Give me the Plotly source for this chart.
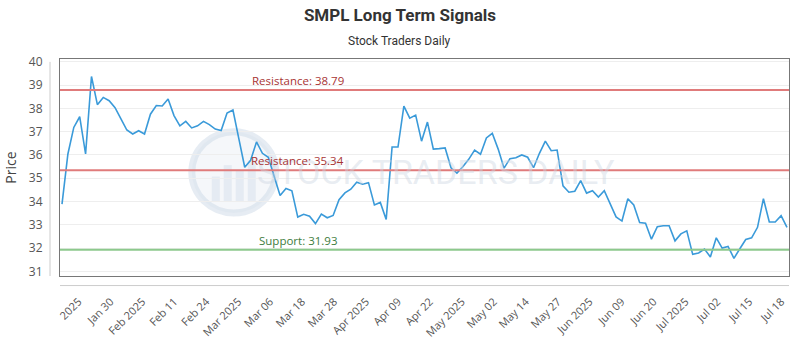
import plotly.graph_objects as go
import numpy as np

# ---- data ----
prices = [
    33.89, 36.04, 37.18, 37.64, 36.04, 39.37, 38.16, 38.47, 38.33, 38.03,
    37.55, 37.07, 36.90, 37.04, 36.90, 37.75, 38.12, 38.10, 38.40, 37.69,
    37.25, 37.44, 37.16, 37.25, 37.44, 37.30, 37.11, 37.05, 37.80, 37.93,
    36.70, 35.47, 35.77, 36.56, 36.07, 35.90, 35.07, 34.26, 34.56, 34.46,
    33.33, 33.45, 33.37, 33.05, 33.46, 33.30, 33.40, 34.08, 34.37, 34.53,
    34.83, 34.74, 34.81, 33.85, 33.96, 33.23, 36.34, 36.34, 38.10, 37.58,
    37.71, 36.59, 37.41, 36.25, 36.27, 36.30, 35.45, 35.22, 35.49, 35.81,
    36.21, 36.03, 36.73, 36.93, 36.25, 35.43, 35.84, 35.88, 36.00, 35.90,
    35.45, 36.07, 36.59, 36.18, 36.21, 34.67, 34.40, 34.44, 34.90, 34.36,
    34.46, 34.19, 34.46, 33.92, 33.34, 33.16, 34.12, 33.85, 33.10, 33.07,
    32.38, 32.92, 32.96, 32.96, 32.31, 32.61, 32.74, 31.73, 31.79, 31.96,
    31.62, 32.44, 32.00, 32.07, 31.56, 31.97, 32.37, 32.44, 32.89, 34.12,
    33.12, 33.12, 33.39, 32.89,
]
tick_labels = ["2025", "Jan 30", "Feb 2025", "Feb 11", "Feb 24", "Mar 2025",
               "Mar 06", "Mar 18", "Mar 28", "Apr 2025", "Apr 09", "Apr 22",
               "May 2025", "May 02", "May 14", "May 27", "Jun 2025", "Jun 09",
               "Jun 20", "Jul 2025", "Jul 02", "Jul 15", "Jul 18"]
levels = [38.79, 35.34, 31.93]
level_names = ["Resistance", "Resistance", "Support"]
y_ticks = [31, 32, 33, 34, 35, 36, 37, 38, 39, 40]

x = list(range(len(prices)))
n = len(prices)
tickvals = list(np.linspace(2.8, 2.8 + 5.42 * (len(tick_labels) - 1), len(tick_labels)))

fig = go.Figure()
fig.add_trace(go.Scatter(x=x, y=prices, mode="lines",
                         line=dict(color="#3a9ad9", width=1.6),
                         hoverinfo="skip", showlegend=False))

# Watermark
fig.add_shape(type="circle", xref="paper", yref="paper",
              x0=(192 - 60) / 730, x1=(276 - 60) / 730,
              y0=(286 - 220) / 227, y1=(286 - 135) / 227,
              line=dict(color="rgba(200,212,228,0.45)", width=7),
              fillcolor="rgba(225,232,242,0.35)", layer="below")
for bx0, bx1, btop in [(212, 220, 182), (224, 232, 170), (236, 244, 176), (248, 256, 165)]:
    fig.add_shape(type="rect", xref="paper", yref="paper",
                  x0=(bx0 - 60) / 730, x1=(bx1 - 60) / 730,
                  y0=(286 - 208) / 227, y1=(286 - btop) / 227,
                  line=dict(width=0), fillcolor="rgba(200,212,228,0.35)", layer="below")
fig.add_annotation(text="STOCK TRADERS DAILY", xref="paper", yref="paper",
                   x=(437 - 60) / 730, y=(286 - 177) / 227, showarrow=False,
                   font=dict(family="Roboto", size=34, color="rgba(205,214,226,0.45)"),
                   xanchor="center", yanchor="middle")

line_colors = ["#e07b7b", "#e07b7b", "#8cc98c"]
text_colors = ["#a83434", "#a83434", "#3d7d3d"]
for lv, nm, lc, tc in zip(levels, level_names, line_colors, text_colors):
    fig.add_shape(type="line", xref="paper", yref="y", x0=0, x1=1, y0=lv, y1=lv,
                  line=dict(color=lc, width=2))
    fig.add_annotation(text=f"{nm}: {lv:.2f}", xref="paper", yref="y",
                       x=0.326, y=lv, yanchor="bottom", xanchor="center",
                       showarrow=False, yshift=0,
                       font=dict(family="Open Sans", size=11.5, color=tc))

# separate axis lines
fig.add_shape(type="line", xref="paper", yref="paper",
              x0=-10 / 730, x1=-10 / 730, y0=0, y1=(286 - 62) / 227,
              line=dict(color="#cccccc", width=1))
fig.add_shape(type="line", xref="paper", yref="paper",
              x0=0, x1=1, y0=-10 / 227, y1=-10 / 227,
              line=dict(color="#cccccc", width=1))

fig.add_annotation(text="Stock Traders Daily", xref="paper", yref="paper",
                   x=(400 - 60) / 730, y=(286 - 40) / 227,
                   showarrow=False, xanchor="center", yanchor="middle",
                   font=dict(family="Roboto", size=12, color="#333333"))

fig.update_layout(
    width=800, height=350,
    margin=dict(l=60, r=10, t=59, b=64),
    paper_bgcolor="white", plot_bgcolor="white",
    title=dict(text="<b>SMPL Long Term Signals</b>", x=0.5, xanchor="center",
               xref="container", y=1 - 15 / 350, yanchor="middle",
               font=dict(family="Roboto", size=17, color="#333333")),
    xaxis=dict(range=[-0.34, n - 1 + 0.34], tickvals=tickvals, ticktext=tick_labels,
               tickangle=-45, showgrid=False, zeroline=False,
               showline=True, mirror=True, linecolor="#777777", linewidth=1,
               ticks="", ticklabelstandoff=14,
               tickfont=dict(family="Open Sans", size=11, color="#555555")),
    yaxis=dict(range=[30.8, 40.12], tickvals=y_ticks,
               showgrid=True, gridcolor="#eeeeee", zeroline=False,
               showline=True, mirror=True, linecolor="#777777", linewidth=1,
               ticks="", ticklabelstandoff=14,
               tickfont=dict(family="Open Sans", size=12, color="#555555"),
               title=dict(text="Price", standoff=8,
                          font=dict(family="Open Sans", size=14, color="#444444"))),
)

fig.write_html("out.html")
